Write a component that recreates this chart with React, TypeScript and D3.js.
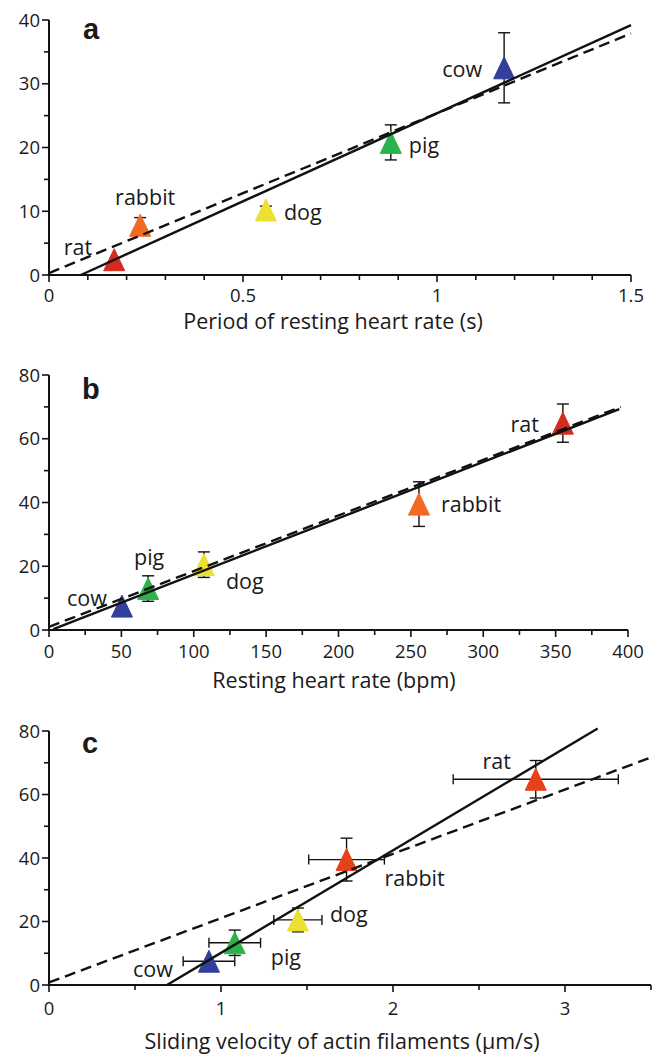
import React from 'react';
import * as d3 from 'd3';

const W = 659;
const H = 1058;

const animals = ['rat', 'rabbit', 'dog', 'pig', 'cow'];
const colorsAB = ['#d52b1e', '#f26a21', '#ece032', '#2cb24a', '#323f9b'];
const colorsC = ['#e5421b', '#e5421b', '#ece032', '#2cb24a', '#323f9b'];

// panel a: period of resting heart rate (s)
const periodA = [0.168, 0.235, 0.559, 0.881, 1.173];
const valueA = [2.4, 7.8, 10.2, 20.8, 32.5];
const errA = [0, 1.2, 0.6, 2.75, 5.5];
const solidAx = [0.082, 1.5];
const solidAy = [0, 39.2];
const dashAx = [0, 1.5];
const dashAy = [0.3, 37.9];

// panel b: resting heart rate (bpm)
const rateB = [355, 255.6, 107, 68.5, 50.4];
const valueB = [64.9, 39.5, 20.5, 13, 7.5];
const errB = [6, 7, 4, 4, 0];
const solidBx = [3, 394];
const solidBy = [0.3, 69.3];
const dashBx = [0, 395];
const dashBy = [1.0, 70.0];

// panel c: sliding velocity of actin filaments
const velocityC = [2.83, 1.73, 1.447, 1.08, 0.93];
const velocityErrC = [0.48, 0.22, 0.14, 0.15, 0.15];
const valueC = [64.8, 39.5, 20.5, 13.3, 7.5];
const errC = [5.9, 6.75, 3.75, 4, 0];
const solidCx = [0.686, 3.19];
const solidCy = [0, 80.8];
const dashCx = [0, 3.5];
const dashCy = [0.8, 71.7];

const xTicksA = [0, 0.5, 1, 1.5];
const yTicksA = [0, 10, 20, 30, 40];
const xTicksB = [0, 50, 100, 150, 200, 250, 300, 350, 400];
const yTicksB = [0, 20, 40, 60, 80];
const xTicksC = [0, 1, 2, 3];
const yTicksC = [0, 20, 40, 60, 80];

const FONT = "'Open Sans', sans-serif";
const TICK_FS = 18.5;
const TEXT_FS = 21.5;

type Label = { anchor: string; dx: number; dy: number };

type PanelCfg = {
  letter: string;
  title: string;
  xDomain: [number, number];
  xRange: [number, number];
  yDomain: [number, number];
  yRange: [number, number];
  xTicks: number[];
  xMinor: number[];
  yTicks: number[];
  yMinor: number[];
  xs: number[];
  ys: number[];
  yErr: number[];
  xErr?: number[];
  colors: string[];
  solid: [number[], number[]];
  dashed: [number[], number[]];
  labels: Label[];
  letterPos: [number, number];
  titlePos: [number, number];
  tickDy: number;
};

function Panel({ c }: { c: PanelCfg }) {
  const x = d3.scaleLinear().domain(c.xDomain).range(c.xRange);
  const y = d3.scaleLinear().domain(c.yDomain).range(c.yRange);
  const seg = (xs: number[], ys: number[]) =>
    d3.line<[number, number]>().x(d => x(d[0])).y(d => y(d[1]))(xs.map((v, i) => [v, ys[i]]) as [number, number][]) || '';
  const x0 = x(c.xDomain[0]);
  const y0 = y(c.yDomain[0]);
  const fmt = (v: number) => String(v);
  return (
    <g>
      {/* axes */}
      <line x1={x0} x2={x(c.xDomain[1])} y1={y0} y2={y0} stroke="#111" strokeWidth={2} />
      <line x1={x0} x2={x0} y1={y0 + 1} y2={y(c.yDomain[1])} stroke="#111" strokeWidth={2} />
      {c.xMinor.map(t => (
        <line key={'xm' + t} x1={x(t)} x2={x(t)} y1={y0} y2={y0 + 5} stroke="#111" strokeWidth={1.6} />
      ))}
      {c.xTicks.map(t => (
        <g key={'xt' + t}>
          <line x1={x(t)} x2={x(t)} y1={y0} y2={y0 + 7} stroke="#111" strokeWidth={1.6} />
          <text x={x(t)} y={y0 + c.tickDy} textAnchor="middle" fontFamily={FONT} fontSize={TICK_FS} fill="#1a1a1a">
            {fmt(t)}
          </text>
        </g>
      ))}
      {c.yMinor.map(t => (
        <line key={'ym' + t} x1={x0 - 5} x2={x0} y1={y(t)} y2={y(t)} stroke="#111" strokeWidth={1.6} />
      ))}
      {c.yTicks.map(t => (
        <g key={'yt' + t}>
          <line x1={x0 - 7} x2={x0} y1={y(t)} y2={y(t)} stroke="#111" strokeWidth={1.6} />
          <text x={x0 - 9} y={y(t)} dy="0.36em" textAnchor="end" fontFamily={FONT} fontSize={TICK_FS} fill="#1a1a1a">
            {fmt(t)}
          </text>
        </g>
      ))}
      {/* error bars */}
      {c.xs.map((v, i) => (
        <g key={'e' + i} stroke="#111" strokeWidth={1.4}>
          {c.yErr[i] > 0 && (
            <>
              <line x1={x(v)} x2={x(v)} y1={y(c.ys[i] - c.yErr[i])} y2={y(c.ys[i] + c.yErr[i])} />
              <line x1={x(v) - 6} x2={x(v) + 6} y1={y(c.ys[i] - c.yErr[i])} y2={y(c.ys[i] - c.yErr[i])} />
              <line x1={x(v) - 6} x2={x(v) + 6} y1={y(c.ys[i] + c.yErr[i])} y2={y(c.ys[i] + c.yErr[i])} />
            </>
          )}
          {c.xErr && c.xErr[i] > 0 && (
            <>
              <line x1={x(v - c.xErr[i])} x2={x(v + c.xErr[i])} y1={y(c.ys[i])} y2={y(c.ys[i])} />
              <line x1={x(v - c.xErr[i])} x2={x(v - c.xErr[i])} y1={y(c.ys[i]) - 5} y2={y(c.ys[i]) + 5} />
              <line x1={x(v + c.xErr[i])} x2={x(v + c.xErr[i])} y1={y(c.ys[i]) - 5} y2={y(c.ys[i]) + 5} />
            </>
          )}
        </g>
      ))}
      {/* triangles */}
      {c.xs.map((v, i) => {
        const cx = x(v);
        const cy = y(c.ys[i]);
        return (
          <path
            key={'t' + i}
            d={`M${cx},${cy - 11} L${cx + 10.5},${cy + 11} L${cx - 10.5},${cy + 11} Z`}
            fill={c.colors[i]}
            stroke={c.colors[i]}
            strokeWidth={1}
            strokeLinejoin="round"
          />
        );
      })}
      {/* fit lines */}
      <path d={seg(c.dashed[0], c.dashed[1])} fill="none" stroke="#111" strokeWidth={2.4} strokeDasharray="11,6" />
      <path d={seg(c.solid[0], c.solid[1])} fill="none" stroke="#111" strokeWidth={2.4} />
      {/* labels */}
      {c.xs.map((v, i) => (
        <text
          key={'l' + i}
          x={x(v) + c.labels[i].dx}
          y={y(c.ys[i]) + c.labels[i].dy}
          textAnchor={c.labels[i].anchor}
          fontFamily={FONT}
          fontSize={TEXT_FS}
          fill="#1a1a1a"
        >
          {animals[i]}
        </text>
      ))}
      <text x={c.letterPos[0]} y={c.letterPos[1]} fontFamily="'Liberation Sans', Arial, sans-serif" fontWeight="bold" fontSize={29} fill="#1a1a1a">
        {c.letter}
      </text>
      <text x={c.titlePos[0]} y={c.titlePos[1]} textAnchor="middle" fontFamily={FONT} fontSize={TEXT_FS} fill="#1a1a1a">
        {c.title}
      </text>
    </g>
  );
}

const panelA: PanelCfg = {
  letter: 'a',
  title: 'Period of resting heart rate (s)',
  xDomain: [0, 1.5],
  xRange: [49, 631],
  yDomain: [0, 40],
  yRange: [275, 20],
  xTicks: xTicksA,
  xMinor: d3.range(0.1, 1.5, 0.1).filter(v => Math.abs(v - 0.5) > 0.01 && Math.abs(v - 1) > 0.01),
  yTicks: yTicksA,
  yMinor: [5, 15, 25, 35],
  xs: periodA,
  ys: valueA,
  yErr: errA,
  colors: colorsAB,
  solid: [solidAx, solidAy],
  dashed: [dashAx, dashAy],
  labels: [
    { anchor: 'end', dx: -22, dy: -5 },
    { anchor: 'middle', dx: 5, dy: -20 },
    { anchor: 'start', dx: 18, dy: 10 },
    { anchor: 'start', dx: 18, dy: 11 },
    { anchor: 'end', dx: -22, dy: 9 },
  ],
  letterPos: [83, 39],
  titlePos: [333, 329],
  tickDy: 27,
};

const panelB: PanelCfg = {
  letter: 'b',
  title: 'Resting heart rate (bpm)',
  xDomain: [0, 400],
  xRange: [49, 628],
  yDomain: [0, 80],
  yRange: [630, 375],
  xTicks: xTicksB,
  xMinor: d3.range(25, 400, 50),
  yTicks: yTicksB,
  yMinor: d3.range(10, 80, 20),
  xs: rateB,
  ys: valueB,
  yErr: errB,
  colors: colorsAB,
  solid: [solidBx, solidBy],
  dashed: [dashBx, dashBy],
  labels: [
    { anchor: 'end', dx: -24, dy: 9 },
    { anchor: 'start', dx: 22, dy: 8 },
    { anchor: 'start', dx: 22, dy: 24 },
    { anchor: 'middle', dx: 1, dy: -24 },
    { anchor: 'end', dx: -15, dy: 0 },
  ],
  letterPos: [82, 399],
  titlePos: [334, 688],
  tickDy: 28,
};

const panelC: PanelCfg = {
  letter: 'c',
  title: 'Sliding velocity of actin filaments (\u03bcm/s)',
  xDomain: [0, 3.5],
  xRange: [49, 651],
  yDomain: [0, 80],
  yRange: [985, 731],
  xTicks: xTicksC,
  xMinor: [0.5, 1.5, 2.5, 3.5],
  yTicks: yTicksC,
  yMinor: d3.range(10, 80, 20),
  xs: velocityC,
  ys: valueC,
  yErr: errC,
  xErr: velocityErrC,
  colors: colorsC,
  solid: [solidCx, solidCy],
  dashed: [dashCx, dashCy],
  labels: [
    { anchor: 'middle', dx: -39, dy: -10 },
    { anchor: 'start', dx: 38, dy: 26 },
    { anchor: 'start', dx: 32, dy: 2 },
    { anchor: 'start', dx: 36, dy: 22 },
    { anchor: 'end', dx: -36, dy: 16 },
  ],
  letterPos: [82, 753],
  titlePos: [342, 1049],
  tickDy: 30,
};

export default function App() {
  return (
    <svg
      width={W}
      height={H}
      viewBox={`0 0 ${W} ${H}`}
      style={{ position: 'absolute', left: 0, top: 0, background: '#fff' }}
    >
      <rect width={W} height={H} fill="#fff" />
      <Panel c={panelA} />
      <Panel c={panelB} />
      <Panel c={panelC} />
    </svg>
  );
}
